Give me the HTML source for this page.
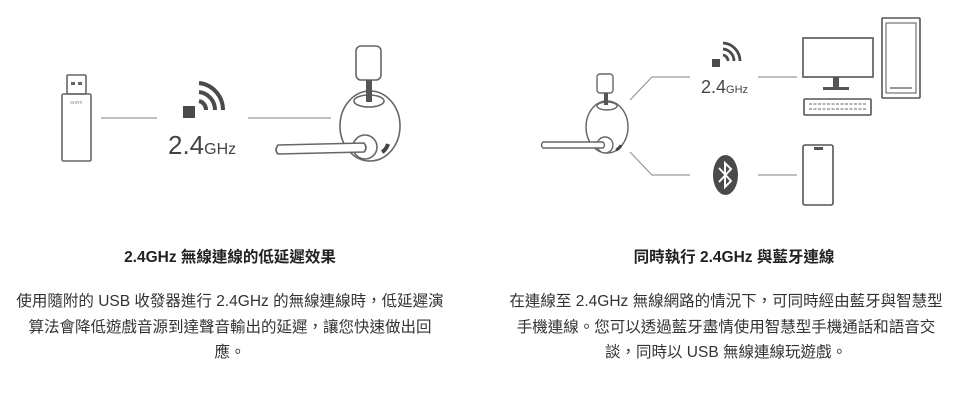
<!DOCTYPE html>
<html><head><meta charset="utf-8"><style>
html,body{margin:0;padding:0;background:#fff;}
body{width:960px;height:400px;position:relative;overflow:hidden;font-family:"Liberation Sans","Noto Sans CJK TC",sans-serif;}
.t{position:absolute;text-align:center;white-space:nowrap;color:#222;}
.title{font-weight:bold;font-size:15.5px;top:245px;}
.p{font-size:15.5px;line-height:25.5px;top:289px;color:#333;}
svg{position:absolute;left:0;top:0;}
</style></head><body>
<svg width="960" height="230" viewBox="0 0 960 230">
<g fill="none" stroke="#666" stroke-width="1.6">
 <rect x="67" y="75" width="19" height="19" rx="1"/>
 <rect x="62" y="94" width="29" height="67" rx="1.5"/>
</g>
<rect x="71" y="82" width="4" height="3" fill="#666"/><rect x="78" y="82" width="4" height="3" fill="#666"/>
<text x="76.5" y="104" font-size="4.5" text-anchor="middle" fill="#666" font-family="Liberation Serif,serif">SONY</text>
<g stroke="#999" stroke-width="1.3">
 <line x1="101" y1="118" x2="157" y2="118"/>
 <line x1="248" y1="118" x2="331" y2="118"/>
</g>
<rect x="183" y="106" width="12" height="12" fill="#4a4a4a"/>
<g fill="none" stroke="#4a4a4a" stroke-width="4">
 <path d="M199,101 A9,9 0 0 1 206,110"/>
 <path d="M199,92 A18,18 0 0 1 215,110"/>
 <path d="M199,83 A27,27 0 0 1 223,110"/>
</g>
<text x="168" y="154" font-size="26" fill="#444">2.4<tspan font-size="16">GHz</tspan></text>
<g fill="#fff" stroke="#666" stroke-width="1.6">
 <rect x="356" y="46" width="25" height="34" rx="5"/>
 <ellipse cx="370" cy="126" rx="30" ry="35"/>
 <ellipse cx="369" cy="101" rx="15" ry="6"/>
 <circle cx="365" cy="147" r="12"/>
 <path d="M278,145 L364,143 Q368,148 364,152 L278,154 Q274,150 278,145 Z"/>
</g>
<rect x="366" y="80" width="6" height="22" fill="#555"/>
<path d="M382,152 Q386,150 388,144" stroke="#444" stroke-width="4" fill="none"/>
<g fill="#fff" stroke="#666" stroke-width="1.4">
 <rect x="597" y="74" width="16" height="19" rx="3"/>
 <ellipse cx="607" cy="127" rx="21" ry="26"/>
 <ellipse cx="607" cy="106" rx="10" ry="4"/>
 <circle cx="605" cy="145" r="8"/>
 <path d="M543,142 L603,142 Q606,145 603,148 L543,148 Q540,145 543,142 Z"/>
</g>
<rect x="604" y="93" width="4" height="12" fill="#555"/>
<path d="M616,150 Q620,148 621,145" stroke="#444" stroke-width="3" fill="none"/>
<g stroke="#999" stroke-width="1.2" fill="none">
 <polyline points="630,100 652,77 690,77"/>
 <line x1="758" y1="77" x2="797" y2="77"/>
 <polyline points="630,152 652,175 690,175"/>
 <line x1="758" y1="175" x2="797" y2="175"/>
</g>
<rect x="712" y="59" width="8" height="8" fill="#4a4a4a"/>
<g fill="none" stroke="#4a4a4a" stroke-width="2.8">
 <path d="M723,55 A6,6 0 0 1 728,61"/>
 <path d="M723,49 A12,12 0 0 1 734,61"/>
 <path d="M723,43 A18,18 0 0 1 740,61"/>
</g>
<text x="701" y="93" font-size="18" fill="#444">2.4<tspan font-size="11">GHz</tspan></text>
<g fill="#fff" stroke="#555" stroke-width="1.6">
 <rect x="803" y="38" width="70" height="39"/>
 <rect x="882" y="18" width="38" height="80" rx="1"/>
 <rect x="886" y="23" width="30" height="70" stroke-width="1"/>
 <rect x="804" y="99" width="67" height="16" rx="1"/>
 <rect x="803" y="145" width="30" height="60" rx="2"/>
</g>
<rect x="833" y="77" width="6" height="10" fill="#555"/>
<rect x="823" y="87" width="26" height="3" fill="#555"/>
<line x1="890" y1="88" x2="912" y2="88" stroke="#777" stroke-width="1.5"/>
<g stroke="#999" stroke-width="1.5" stroke-dasharray="3,1.5">
 <line x1="809" y1="104" x2="867" y2="104"/><line x1="809" y1="109" x2="867" y2="109"/>
</g>
<rect x="814" y="147" width="9" height="3" fill="#555"/>
<ellipse cx="725.5" cy="175" rx="12.5" ry="20" fill="#4a4a4a"/>
<path d="M719,168 L731,181 L725,187 L725,163 L731,169 L719,182" fill="none" stroke="#fff" stroke-width="2"/>
</svg>
<div class="t title" style="left:0;width:460px;">2.4GHz 無線連線的低延遲效果</div>
<div class="t title" style="left:500px;width:468px;">同時執行 2.4GHz 與藍牙連線</div>
<div class="t p" style="left:0;width:460px;">使用隨附的 USB 收發器進行 2.4GHz 的無線連線時，低延遲演<br>算法會降低遊戲音源到達聲音輸出的延遲，讓您快速做出回<br>應。</div>
<div class="t p" style="left:491px;width:470px;">在連線至 2.4GHz 無線網路的情況下，可同時經由藍牙與智慧型<br>手機連線。您可以透過藍牙盡情使用智慧型手機通話和語音交<br>談，同時以 USB 無線連線玩遊戲。</div>
</body></html>
